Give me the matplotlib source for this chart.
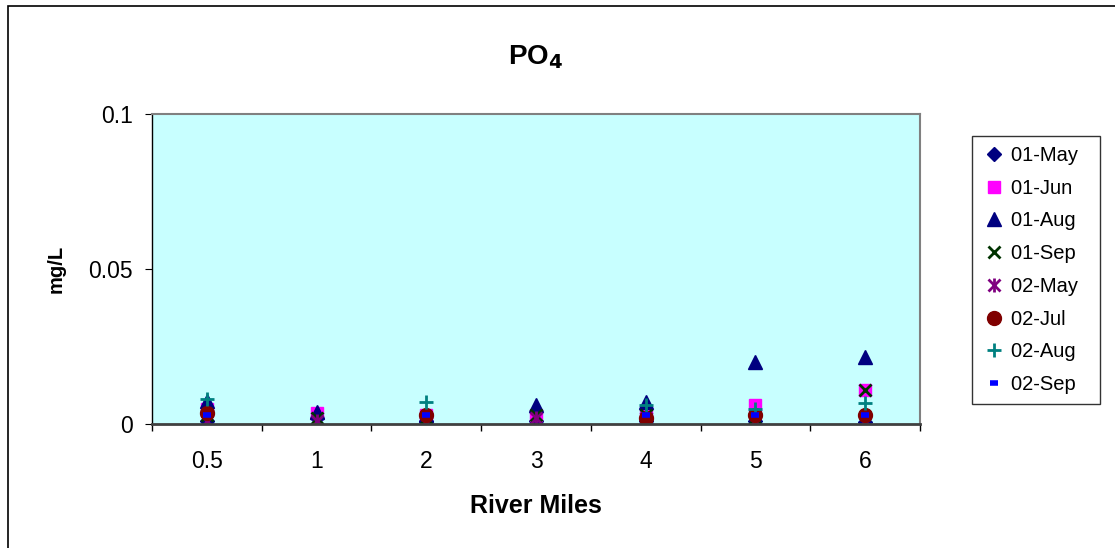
import matplotlib.pyplot as plt
from matplotlib.patches import Rectangle
import numpy as np

nan = np.nan

# River mile stations (categorical x axis)
river_miles = ['0.5', '1', '2', '3', '4', '5', '6']

# PO4 readings (mg/L) per sampling date
may_01 = [0.001, 0.002, 0.001, 0.001, 0.001, 0.001, 0.0005]
jun_01 = [0.005, 0.0035, 0.003, 0.003, 0.004, 0.006, 0.011]
aug_01 = [0.0075, 0.004, 0.003, 0.006, 0.007, 0.020, 0.0215]
sep_01 = [0.003, 0.002, 0.002, 0.003, 0.003, 0.002, 0.011]
may_02 = [0.001, 0.001, 0.0003, 0.002, 0.002, 0.001, 0.001]
jul_02 = [0.0035, nan, 0.003, nan, 0.002, 0.003, 0.003]
aug_02 = [0.008, nan, 0.007, nan, 0.006, 0.005, 0.0068]
sep_02 = [0.003, nan, 0.003, nan, 0.003, 0.003, 0.003]

x = np.arange(len(river_miles))

fig = plt.figure(figsize=(11.15, 5.48), dpi=100)
plt.rcParams['font.family'] = ['Liberation Sans', 'DejaVu Sans']

# outer chart border
fig.patches.append(Rectangle((8 / 1115, -0.1), 1.2, 1.1 - 6 / 548,
                             transform=fig.transFigure, fill=False,
                             edgecolor='black', linewidth=1.2))

ax = fig.add_axes([152 / 1115, (548 - 424) / 548, (920 - 152) / 1115, (424 - 114) / 548])
ax.set_facecolor('#C8FFFF')

ax.plot(x, may_01, linestyle='none', marker='D', ms=7.5, color='#000080', label='01-May')
ax.plot(x, jun_01, linestyle='none', marker='s', ms=9, color='#FF00FF', label='01-Jun')
ax.plot(x, aug_01, linestyle='none', marker='^', ms=10.5, color='#000080', label='01-Aug')
ax.plot(x, sep_01, linestyle='none', marker='x', ms=9, mew=2, color='#003300', label='01-Sep')
# asterisk marker: an x with a vertical bar through it
h_star, = ax.plot(x, may_02, linestyle='none', marker='x', ms=8, mew=2, color='#800080')
h_bar, = ax.plot(x, may_02, linestyle='none', marker='|', ms=10, mew=2, color='#800080')
ax.plot(x, jul_02, linestyle='none', marker='o', ms=10, color='#800000', label='02-Jul')
ax.plot(x, aug_02, linestyle='none', marker='+', ms=10, mew=2, color='#008080', label='02-Aug')
ax.plot(x, sep_02, linestyle='none', marker='_', ms=6, mew=4, color='#0000FF', label='02-Sep')

ax.set_xlim(-0.5, len(river_miles) - 0.5)
ax.set_ylim(0, 0.1)
ax.set_yticks([0, 0.05, 0.1])
ax.set_yticklabels(['0', '0.05', '0.1'])
ax.set_xticks(x)
ax.set_xticklabels(river_miles)
ax.set_xticks(np.arange(-0.5, len(river_miles)), minor=True)
ax.tick_params(axis='x', which='major', length=0, labelsize=16.5, pad=19)
ax.tick_params(axis='x', which='minor', length=5, direction='out', width=1)
ax.tick_params(axis='y', length=5, direction='out', labelsize=16.5, pad=9)

for side in ['top', 'right']:
    ax.spines[side].set_color('#808080')
    ax.spines[side].set_linewidth(1.5)
ax.spines['left'].set_color('black')
ax.spines['left'].set_linewidth(1)
ax.spines['bottom'].set_color('#404040')
ax.spines['bottom'].set_linewidth(2)

ax.set_title('PO$_\\mathbf{4}$', fontsize=20, fontweight='bold', pad=36)
ax.set_xlabel('River Miles', fontsize=18, fontweight='bold', labelpad=15)
ax.set_ylabel('mg/L', fontsize=14.5, fontweight='bold', labelpad=16)

handles, labels = ax.get_legend_handles_labels()
handles.insert(4, (h_star, h_bar))
labels.insert(4, '02-May')
# trailing spaces widen the box on the right
labels = [lab + '  ' for lab in labels]
leg = ax.legend(handles, labels, loc='upper left', bbox_to_anchor=(1.068, 0.929),
                frameon=True, fancybox=False, edgecolor='black', fontsize=14.5,
                handlelength=1.2, handletextpad=0.25, labelspacing=0.68,
                borderpad=0.5, borderaxespad=0)
leg.get_frame().set_linewidth(1)

fig.savefig('out.png', dpi=100)
